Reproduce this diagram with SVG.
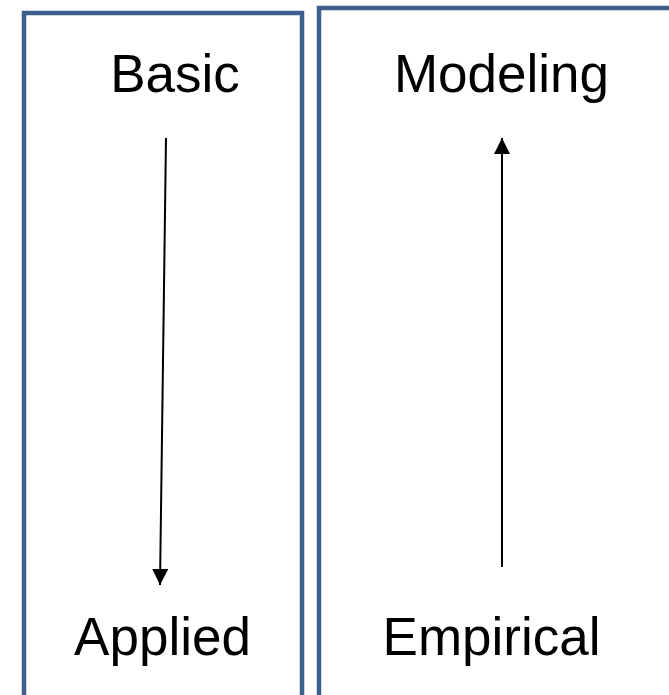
<svg xmlns="http://www.w3.org/2000/svg" width="669" height="695" viewBox="0 0 669 695">
  <style>
    .panel { fill: #ffffff; stroke: #3c5f8e; stroke-width: 4.5; }
    .label { font-family: "Liberation Sans", Arial, sans-serif; font-size: 53px; fill: #000000; text-anchor: middle; }
    .link { stroke: #000000; stroke-width: 2; fill: none; }
  </style>
  <defs>
    <marker id="head" viewBox="0 0 16 16" refX="16" refY="8" markerWidth="16" markerHeight="16" markerUnits="userSpaceOnUse" orient="auto">
      <path d="M0,0 L16,8 L0,16 Z" fill="#000000"/>
    </marker>
  </defs>
  <rect width="669" height="695" fill="#ffffff"/>
  <g id="panel-left">
    <rect class="panel" x="24" y="13" width="278" height="700"/>
    <text class="label" x="175" y="92">Basic</text>
    <text class="label" x="162.5" y="655">Applied</text>
  </g>
  <g id="panel-right">
    <rect class="panel" x="319" y="8" width="370" height="710"/>
    <text class="label" x="501.5" y="92">Modeling</text>
    <text class="label" x="491.5" y="655">Empirical</text>
  </g>
  <g id="connectors">
    <line class="link" x1="166" y1="138" x2="160" y2="585" marker-end="url(#head)"/>
    <line class="link" x1="502" y1="567" x2="502" y2="138" marker-end="url(#head)"/>
  </g>
</svg>
